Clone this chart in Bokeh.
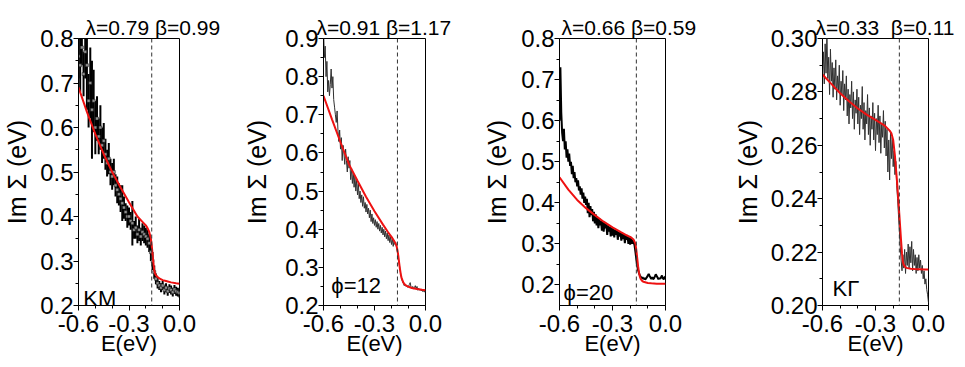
import numpy as np
from bokeh.plotting import figure
from bokeh.layouts import row
from bokeh.models import Span, Label, FixedTicker, NumeralTickFormatter, Range1d
from bokeh.embed import file_html
from bokeh.resources import INLINE

FONT = "Liberation Sans"

# ---------------- data ----------------
# fitted curves (red), shared energy grid
E_fit = [-0.60, -0.55, -0.50, -0.45, -0.40, -0.35, -0.30, -0.25, -0.22, -0.21, -0.20, -0.19, -0.18,
         -0.17, -0.165, -0.16, -0.155, -0.15, -0.145, -0.14, -0.13, -0.12, -0.10, -0.08, -0.05, -0.02, 0.00]
fit_KM = [0.690, 0.635, 0.585, 0.540, 0.500, 0.465, 0.432, 0.400, 0.388, 0.384, 0.380, 0.374, 0.366,
          0.350, 0.335, 0.315, 0.295, 0.280, 0.272, 0.268, 0.264, 0.261, 0.257, 0.255, 0.252, 0.250, 0.249]
fit_phi12 = [0.750, 0.688, 0.628, 0.570, 0.527, 0.485, 0.447, 0.412, 0.392, 0.386, 0.380, 0.373, 0.366,
             0.356, 0.345, 0.330, 0.312, 0.295, 0.281, 0.271, 0.260, 0.254, 0.249, 0.246, 0.243, 0.241, 0.240]
fit_phi20 = [0.462, 0.432, 0.407, 0.387, 0.370, 0.354, 0.340, 0.328, 0.321, 0.319, 0.317, 0.314, 0.310,
             0.300, 0.285, 0.265, 0.245, 0.230, 0.220, 0.214, 0.209, 0.207, 0.205, 0.204, 0.203, 0.203, 0.203]
fit_KG = [0.2865, 0.2830, 0.2795, 0.2765, 0.2738, 0.2715, 0.2695, 0.2675, 0.2655, 0.2645, 0.2620, 0.2560, 0.2480,
          0.2390, 0.2340, 0.2290, 0.2240, 0.2195, 0.2165, 0.2152, 0.2143, 0.2140, 0.2138, 0.2137, 0.2136, 0.2135, 0.2135]

# measured Im Sigma, KM cut (E = -0.60 ... 0.00, step 0.01) with error bars
im_KM = [0.76, 0.74, 0.78, 0.72, 0.77, 0.74, 0.66, 0.70, 0.64, 0.66,
         0.60, 0.62, 0.58, 0.60, 0.56, 0.57, 0.54, 0.52, 0.53, 0.50,
         0.49, 0.50, 0.47, 0.46, 0.45, 0.44, 0.43, 0.42, 0.41, 0.40,
         0.40, 0.39, 0.385, 0.37, 0.375, 0.36, 0.37, 0.355, 0.365, 0.36,
         0.355, 0.35, 0.34, 0.32, 0.30, 0.275, 0.26, 0.25, 0.245, 0.24,
         0.245, 0.235, 0.24, 0.232, 0.238, 0.235, 0.23, 0.236, 0.232, 0.23,
         0.228]
err_KM = [0.05, 0.06, 0.04, 0.05, 0.06, 0.10, 0.06, 0.08, 0.11, 0.07,
          0.06, 0.05, 0.04, 0.05, 0.04, 0.04, 0.035, 0.03, 0.035, 0.03,
          0.03, 0.03, 0.025, 0.03, 0.025, 0.03, 0.04, 0.025, 0.02, 0.025,
          0.02, 0.02, 0.05, 0.02, 0.025, 0.02, 0.025, 0.02, 0.02, 0.02,
          0.02, 0.02, 0.02, 0.02, 0.02, 0.015, 0.012, 0.012, 0.01, 0.01,
          0.01, 0.01, 0.01, 0.01, 0.01, 0.01, 0.01, 0.01, 0.01, 0.01,
          0.01]

# measured Im Sigma, phi=12 / phi=20 / K-Gamma (E = -0.600 ... 0.000, step 0.005)
im_phi12 = [0.93, 0.85, 0.88, 0.80, 0.84, 0.76, 0.79, 0.75, 0.78, 0.82,
            0.77, 0.80, 0.74, 0.72, 0.70, 0.68, 0.71, 0.66, 0.63, 0.66,
            0.61, 0.64, 0.58, 0.62, 0.60, 0.57, 0.61, 0.58, 0.55, 0.59,
            0.56, 0.58, 0.53, 0.56, 0.52, 0.55, 0.51, 0.54, 0.50, 0.53,
            0.49, 0.52, 0.48, 0.50, 0.47, 0.49, 0.46, 0.485, 0.455, 0.47,
            0.445, 0.465, 0.44, 0.455, 0.43, 0.45, 0.42, 0.44, 0.415, 0.43,
            0.41, 0.425, 0.405, 0.42, 0.40, 0.415, 0.395, 0.41, 0.39, 0.405,
            0.385, 0.40, 0.38, 0.395, 0.375, 0.39, 0.37, 0.385, 0.365, 0.38,
            0.36, 0.375, 0.355, 0.37, 0.36, 0.365, 0.35, 0.34, 0.325, 0.31,
            0.295, 0.28, 0.27, 0.262, 0.258, 0.252, 0.255, 0.25, 0.252, 0.248,
            0.25, 0.255, 0.26, 0.248, 0.245, 0.25, 0.243, 0.247, 0.252, 0.244,
            0.25, 0.24, 0.245, 0.24, 0.243, 0.238, 0.242, 0.236, 0.24, 0.235,
            0.238]
im_phi20 = [0.60, 0.73, 0.62, 0.57, 0.55, 0.58, 0.53, 0.55, 0.51, 0.53,
            0.50, 0.52, 0.49, 0.50, 0.47, 0.49, 0.46, 0.475, 0.45, 0.46,
            0.44, 0.455, 0.43, 0.44, 0.42, 0.435, 0.41, 0.425, 0.40, 0.415,
            0.395, 0.41, 0.375, 0.40, 0.365, 0.392, 0.37, 0.385, 0.355, 0.378,
            0.35, 0.372, 0.345, 0.365, 0.338, 0.362, 0.345, 0.356, 0.332, 0.355,
            0.33, 0.352, 0.338, 0.348, 0.322, 0.345, 0.33, 0.342, 0.318, 0.34,
            0.32, 0.338, 0.316, 0.335, 0.322, 0.333, 0.31, 0.33, 0.318, 0.328,
            0.308, 0.326, 0.312, 0.324, 0.302, 0.322, 0.31, 0.318, 0.30, 0.316,
            0.298, 0.314, 0.30, 0.31, 0.304, 0.296, 0.28, 0.262, 0.246, 0.236,
            0.229, 0.223, 0.22, 0.216, 0.219, 0.214, 0.217, 0.213, 0.216, 0.219,
            0.223, 0.227, 0.222, 0.218, 0.215, 0.219, 0.214, 0.216, 0.221, 0.226,
            0.222, 0.218, 0.214, 0.217, 0.215, 0.219, 0.223, 0.216, 0.214, 0.218,
            0.221]
im_KG = [0.288, 0.295, 0.283, 0.298, 0.287, 0.302, 0.285, 0.293, 0.279, 0.296,
         0.284, 0.291, 0.278, 0.289, 0.281, 0.292, 0.277, 0.286, 0.280, 0.290,
         0.275, 0.284, 0.279, 0.288, 0.273, 0.283, 0.277, 0.286, 0.271, 0.281,
         0.268, 0.279, 0.274, 0.284, 0.270, 0.280, 0.266, 0.277, 0.272, 0.281,
         0.268, 0.278, 0.264, 0.275, 0.270, 0.282, 0.266, 0.276, 0.262, 0.273,
         0.268, 0.279, 0.264, 0.274, 0.260, 0.271, 0.266, 0.276, 0.262, 0.272,
         0.258, 0.270, 0.264, 0.275, 0.261, 0.271, 0.257, 0.268, 0.263, 0.273,
         0.259, 0.269, 0.256, 0.266, 0.250, 0.262, 0.247, 0.265, 0.255, 0.263,
         0.252, 0.258, 0.249, 0.254, 0.245, 0.240, 0.234, 0.228, 0.222, 0.217,
         0.213, 0.219, 0.214, 0.221, 0.212, 0.220, 0.215, 0.223, 0.214, 0.222,
         0.216, 0.224, 0.213, 0.221, 0.215, 0.219, 0.212, 0.218, 0.213, 0.219,
         0.214, 0.217, 0.212, 0.215, 0.210, 0.213, 0.208, 0.210, 0.206, 0.204,
         0.201]

titles = ["λ=0.79 β=0.99", "λ=0.91 β=1.17", "λ=0.66 β=0.59", "λ=0.33\u00a0 β=0.11"]
tags = ["KM", "ϕ=12", "ϕ=20", "KΓ"]
phonon_E = -0.165

x_ticks = [-0.6, -0.3, 0.0]
x_minor = [-0.5, -0.4, -0.2, -0.1]
y_ticks_1 = [0.2, 0.3, 0.4, 0.5, 0.6, 0.7, 0.8]
y_ticks_2 = [0.2, 0.3, 0.4, 0.5, 0.6, 0.7, 0.8, 0.9]
y_ticks_3 = [0.2, 0.3, 0.4, 0.5, 0.6, 0.7, 0.8]
y_ticks_4 = [0.20, 0.22, 0.24, 0.26, 0.28, 0.30]

FIG_H = 367


def minor_between(ticks):
    return [(a + b) / 2 for a, b in zip(ticks[:-1], ticks[1:])]


def base_fig(i, width, yr, yticks, yfmt, L, R, T, B, title_offset, ylabel_standoff):
    p = figure(width=width, height=FIG_H, x_range=Range1d(-0.6, 0.0), y_range=Range1d(*yr),
               output_backend="svg", toolbar_location=None,
               min_border_left=L, min_border_right=R, min_border_top=T, min_border_bottom=B)
    p.title.text = titles[i]
    p.title.align = "left"
    p.title.offset = title_offset
    p.title.standoff = 0
    p.title.text_font = FONT
    p.title.text_font_size = "21px"
    p.title.text_font_style = "normal"
    p.title.text_color = "black"
    p.xgrid.visible = False
    p.ygrid.visible = False
    p.outline_line_color = "black"
    p.outline_line_alpha = 1.0
    p.outline_line_width = 1
    p.background_fill_color = "white"
    p.border_fill_color = "white"
    p.xaxis.ticker = FixedTicker(ticks=x_ticks, minor_ticks=x_minor)
    p.yaxis.ticker = FixedTicker(ticks=yticks, minor_ticks=minor_between(yticks))
    p.xaxis.formatter = NumeralTickFormatter(format="0.0")
    p.yaxis.formatter = NumeralTickFormatter(format=yfmt)
    for ax in (p.xaxis, p.yaxis):
        ax.axis_line_color = "black"
        ax.major_tick_line_color = "black"
        ax.minor_tick_line_color = "black"
        ax.major_tick_out = 5
        ax.major_tick_in = 0
        ax.minor_tick_out = 3
        ax.minor_tick_in = 0
        ax.major_label_text_font = FONT
        ax.major_label_text_font_size = "24px"
        ax.major_label_text_color = "black"
        ax.axis_label_text_font = FONT
        ax.axis_label_text_font_style = "normal"
        ax.axis_label_text_color = "black"
    p.xaxis.axis_label = "E(eV)"
    p.xaxis.axis_label_text_font_size = "22px"
    p.xaxis.major_label_standoff = 4
    p.xaxis.axis_label_standoff = -4
    p.yaxis.axis_label = "Im Σ (eV)"
    p.yaxis.axis_label_text_font_size = "25px"
    p.yaxis.major_label_standoff = 0
    p.yaxis.axis_label_standoff = ylabel_standoff
    p.add_layout(Span(location=phonon_E, dimension="height", line_color="#333333",
                      line_width=1, line_dash="4 3"))
    return p


def add_tag(p, i, xy):
    p.add_layout(Label(x=xy[0], y=xy[1], text=tags[i], text_font=FONT,
                       text_font_size="22px", text_color="black", text_baseline="alphabetic"))


# Panel 1: KM
p1 = base_fig(0, 240, (0.2, 0.8), y_ticks_1, "0.0", 73, 61, 33, 62, 7, 6)
E1 = np.linspace(-0.6, 0.0, len(im_KM))
y1 = np.array(im_KM)
e1 = np.array(err_KM)
p1.segment(E1, y1 - e1, E1, y1 + e1, line_color="black", line_width=2)
p1.scatter(E1, y1, marker="square", size=3, fill_color="#909090", line_color="#111111", line_width=0.5)
p1.line(E_fit, fit_KM, line_color="#ee1111", line_width=2)
add_tag(p1, 0, (-0.572, 0.2154))

# Panel 2: phi=12
p2 = base_fig(1, 240, (0.2, 0.9), y_ticks_2, "0.0", 80, 55, 38, 57, -7, 11)
E2 = np.linspace(-0.6, 0.0, len(im_phi12))
p2.line(E2, im_phi12, line_color="#303030", line_width=1)
p2.line(E_fit, fit_phi12, line_color="#ee1111", line_width=2)
add_tag(p2, 1, (-0.554, 0.2515))

# Panel 3: phi=20
p3 = base_fig(2, 240, (0.15, 0.8), y_ticks_3, "0.0", 79, 55, 36, 56, 2, 7)
E3 = np.linspace(-0.6, 0.0, len(im_phi20))
p3.line(E3, im_phi20, line_color="black", line_width=2)
p3.line(E_fit, fit_phi20, line_color="#ee1111", line_width=2)
add_tag(p3, 2, (-0.577, 0.181))

# Panel 4: K-Gamma
p4 = base_fig(3, 245, (0.2, 0.3), y_ticks_4, "0.00", 102, 37, 33, 62, -7, 6)
E4 = np.linspace(-0.6, 0.0, len(im_KG))
p4.line(E4, im_KG, line_color="#303030", line_width=1)
p4.line(E_fit, fit_KG, line_color="#ee1111", line_width=2)
add_tag(p4, 3, (-0.543, 0.2063))

layout = row(p1, p2, p3, p4)
open("out.html", "w").write(file_html(layout, INLINE))
